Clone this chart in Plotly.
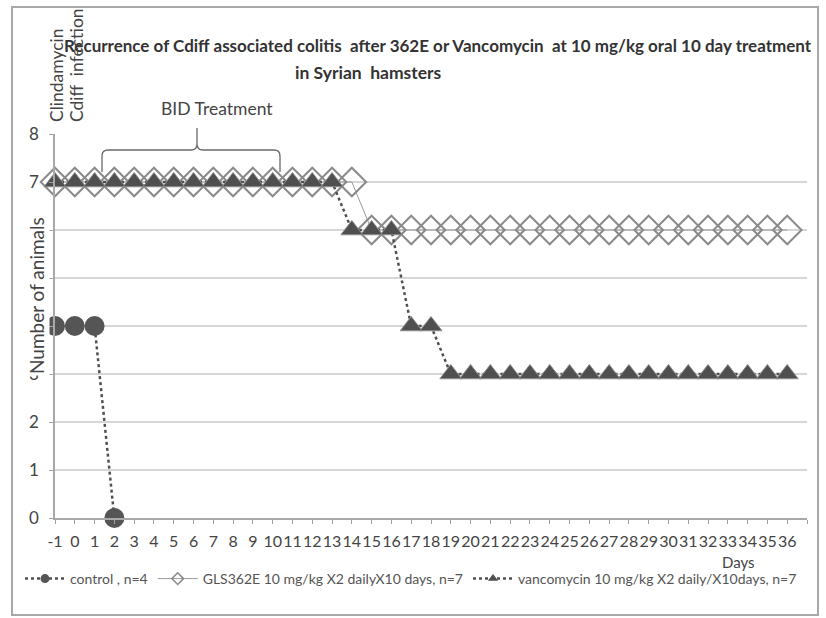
import plotly.graph_objects as go

# ---------------- data ----------------
days = [-1, 0, 1, 2, 3, 4, 5, 6, 7, 8, 9, 10, 11, 12, 13, 14, 15, 16, 17, 18,
        19, 20, 21, 22, 23, 24, 25, 26, 27, 28, 29, 30, 31, 32, 33, 34, 35, 36]

control_days = [-1, 0, 1, 2]
control_animals = [4, 4, 4, 0]

gls_animals = [7, 7, 7, 7, 7, 7, 7, 7, 7, 7, 7, 7, 7, 7, 7, 7,
               6, 6, 6, 6, 6, 6, 6, 6, 6, 6, 6, 6, 6, 6, 6, 6, 6, 6, 6, 6, 6, 6]

van_animals = [7, 7, 7, 7, 7, 7, 7, 7, 7, 7, 7, 7, 7, 7, 7,
               6, 6, 6, 4, 4,
               3, 3, 3, 3, 3, 3, 3, 3, 3, 3, 3, 3, 3, 3, 3, 3, 3, 3]

x_tick_vals = days + [37]
x_tick_text = [str(d) for d in days] + [""]
y_tick_vals = [0, 1, 2, 3, 4, 5, 6, 7, 8]
y_tick_text = ["0", "1", "2", "3", "4", "5", "6", "7", "8"]

series_names = ["control , n=4",
                "GLS362E 10 mg/kg X2 dailyX10 days, n=7",
                "vancomycin 10 mg/kg X2 daily/X10days, n=7"]

# ---------------- layout helpers ----------------
W, H = 826, 618
L, R, T, B = 55, 19, 134, 100
FONT = "Lato"


def px(x):
    return (x - L) / (W - L - R)


def py(y):
    return (H - B - y) / (H - T - B)


DARK = "#505050"
GLS_C = "#8a8a8a"

styles = [
    dict(line=dict(color=DARK, width=2.5, dash="dot"),
         marker=dict(symbol="circle", size=20, color="#555555")),
    dict(line=dict(color="#9a9a9a", width=1),
         marker=dict(symbol="diamond-open", size=22, color=GLS_C,
                     line=dict(width=2, color=GLS_C))),
    dict(line=dict(color=DARK, width=2.5, dash="dot"),
         marker=dict(symbol="triangle-up", size=19, color="#4f4f4f",
                     line=dict(width=1, color="#8c8c8c"))),
]
legend_styles = [
    dict(line=dict(color=DARK, width=2.5, dash="dot"),
         marker=dict(symbol="circle", size=9, color="#555555")),
    dict(line=dict(color="#9a9a9a", width=1),
         marker=dict(symbol="diamond-open", size=9, color=GLS_C,
                     line=dict(width=1.5, color=GLS_C))),
    dict(line=dict(color=DARK, width=2.5, dash="dot"),
         marker=dict(symbol="triangle-up", size=9, color="#4f4f4f")),
]

fig = go.Figure()
series_x = [control_days, days, days]
series_y = [control_animals, gls_animals, van_animals]
for i in range(3):
    fig.add_trace(go.Scatter(x=series_x[i], y=series_y[i], name=series_names[i],
                             mode="lines+markers", showlegend=False,
                             cliponaxis=False, hoverinfo="x+y", **styles[i]))
# legend proxies (small symbols as in the original legend)
for i in range(3):
    fig.add_trace(go.Scatter(x=[None], y=[None], name=series_names[i],
                             mode="lines+markers", showlegend=True,
                             **legend_styles[i]))

# brace over BID treatment (pixel points -> paper)
brace_pts = [
    ("M", 102, 172), ("L", 102, 156), ("Q", 102, 150, 108, 150), ("L", 191, 150),
    ("Q", 197, 150, 197, 144), ("L", 197, 128), ("M", 197, 144),
    ("Q", 197, 150, 203, 150), ("L", 274, 150), ("Q", 280, 150, 280, 156),
    ("L", 280, 172),
]
path = ""
for p in brace_pts:
    cmd = p[0]
    coords = p[1:]
    parts = []
    for i in range(0, len(coords), 2):
        parts.append(f"{px(coords[i]):.5f},{py(coords[i + 1]):.5f}")
    path += cmd + " " + " ".join(parts) + " "

shapes = [
    dict(type="path", path=path.strip(), xref="paper", yref="paper",
         line=dict(color="#6a6a6a", width=1.3)),
    dict(type="rect", xref="paper", yref="paper",
         x0=px(12), x1=px(818), y0=py(615), y1=py(7),
         line=dict(color="#a8a8a8", width=2)),
]

annotations = [
    dict(text="<b>Recurrence of Cdiff associated colitis  after 362E or Vancomycin  at 10 mg/kg oral 10 day treatment</b>",
         x=px(62), y=py(45), xanchor="left", yanchor="middle",
         font=dict(family=FONT, size=17, color="#333333")),
    dict(text="<b>in Syrian  hamsters</b>",
         x=px(368), y=py(72), xanchor="center", yanchor="middle",
         font=dict(family=FONT, size=17.5, color="#333333")),
    dict(text="Clindamycin", textangle=-90,
         x=px(57), y=py(124), xanchor="center", yanchor="bottom",
         font=dict(family=FONT, size=17.5, color="#444444")),
    dict(text="Cdiff  infection", textangle=-90,
         x=px(77), y=py(124), xanchor="center", yanchor="bottom",
         font=dict(family=FONT, size=17.5, color="#444444")),
    dict(text="BID Treatment",
         x=px(217), y=py(108), xanchor="center", yanchor="middle",
         font=dict(family=FONT, size=17.5, color="#444444")),
    dict(text="Number of animals", textangle=-90,
         x=px(36), y=py(296), xanchor="center", yanchor="middle",
         bgcolor="white",
         font=dict(family=FONT, size=19, color="#444444")),
    dict(text="Days",
         x=px(738), y=py(562), xanchor="center", yanchor="middle",
         font=dict(family=FONT, size=15, color="#444444")),
]

for a in annotations:
    a.update(xref="paper", yref="paper", showarrow=False)

fig.update_layout(
    width=W, height=H,
    margin=dict(l=L, r=R, t=T, b=B, pad=0),
    paper_bgcolor="white", plot_bgcolor="white",
    font=dict(family=FONT, color="#444444"),
    showlegend=True,
    legend=dict(orientation="h", x=px(20), y=py(579),
                xanchor="left", yanchor="middle",
                font=dict(family=FONT, size=14, color="#555555"),
                bgcolor="rgba(0,0,0,0)", itemwidth=40),
    shapes=shapes,
    annotations=annotations,
    xaxis=dict(range=[-1, 37], tickmode="array", tickvals=x_tick_vals,
               ticktext=x_tick_text, ticks="outside", ticklen=4,
               tickangle=0,
               tickcolor="#a0a0a0", showline=True, linecolor="#a8a8a8",
               linewidth=1.5, showgrid=False, zeroline=False,
               tickfont=dict(family=FONT, size=16, color="#444444"),
               ticklabelstandoff=4, fixedrange=True),
    yaxis=dict(range=[0, 8], tickmode="array", tickvals=y_tick_vals,
               ticktext=y_tick_text, ticks="outside", ticklen=4,
               tickcolor="#a0a0a0", showline=True, linecolor="#a8a8a8",
               linewidth=1.5, showgrid=True, gridcolor="#d6d6d6",
               gridwidth=1.5, zeroline=False,
               tickfont=dict(family=FONT, size=17, color="#444444"),
               ticklabelstandoff=7, fixedrange=True),
)

fig.write_html("out.html", config={"displayModeBar": False},
               post_script="document.body.style.margin='0';")
